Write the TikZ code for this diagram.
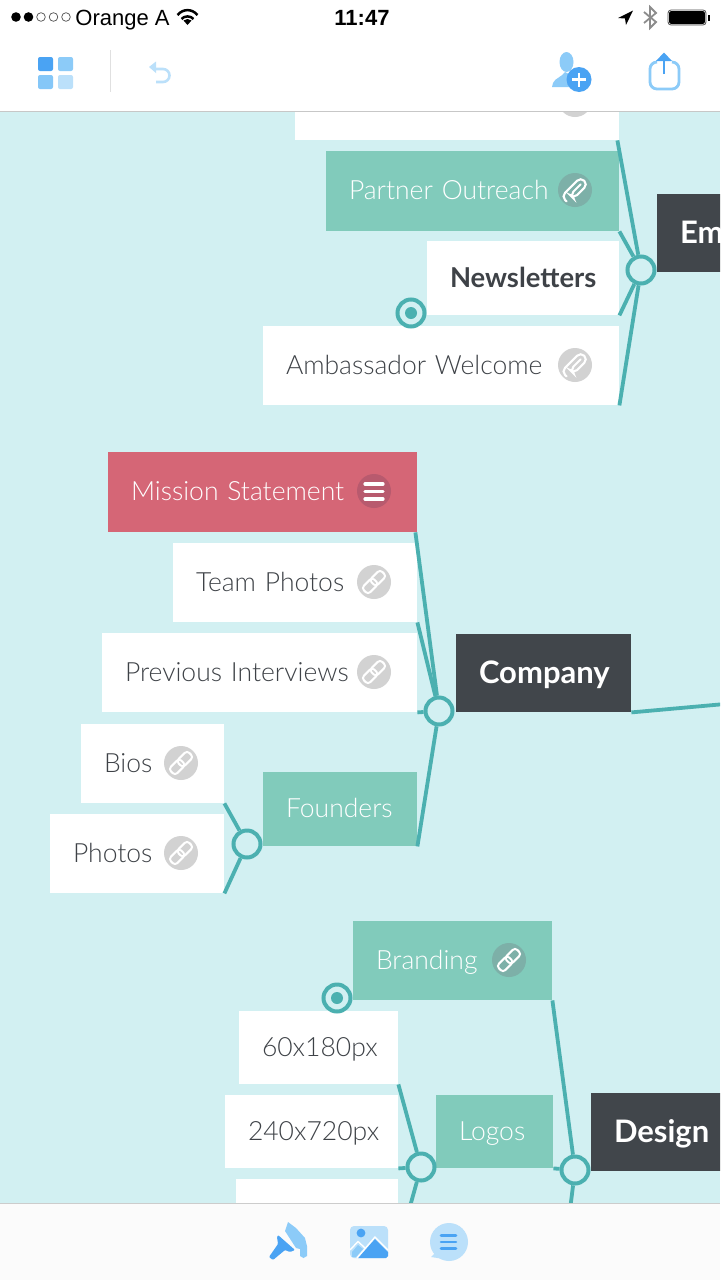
\documentclass[tikz,border=0pt]{standalone}
\usepackage{fontspec}
\setmainfont{Lato}
\newfontfamily\lightf{Lato Light}
\newfontfamily\uifont{Liberation Sans}
\definecolor{bgc}{HTML}{D2F0F2}
\definecolor{linec}{HTML}{4BB0B0}
\definecolor{tealc}{HTML}{81CBBB}
\definecolor{redc}{HTML}{D56676}
\definecolor{darkc}{HTML}{41464B}
\definecolor{txtc}{HTML}{3E4247}
\definecolor{blued}{HTML}{4AA3F3}
\definecolor{bluem}{HTML}{8CCBF8}
\definecolor{bluel}{HTML}{BBE0FA}
\definecolor{badgeg}{HTML}{D2D2D2}
\definecolor{badget}{HTML}{7DB0A8}
\definecolor{badger}{HTML}{B85A6E}
\tikzset{
  x=0.5pt,y=-0.5pt,
  plainbox/.style={fill=white,text=txtc,font=\lightf\fontsize{13.25}{15}\selectfont},
  tealbox/.style={fill=tealc,text=white,font=\lightf\fontsize{13.25}{15}\selectfont},
  redbox/.style={fill=redc,text=white,font=\lightf\fontsize{13.25}{15}\selectfont},
  boldbox/.style={fill=white,text=txtc,font=\fontsize{13.7}{15}\selectfont\bfseries,text height=0.72em+4pt},
  darkbox/.style={fill=darkc,text=white,font=\fontsize{15.5}{17}\selectfont\bfseries,text height=0.72em+5pt},
  hubc/.style={circle,draw=linec,line width=2pt,fill=bgc,minimum size=13.5pt,inner sep=0pt},
  conn/.style={draw=linec,line width=1.9pt},
}
% name x0 y0 x1 y1 style text
\newcommand{\mapbox}[7]{%
  \pgfmathsetmacro{\cxx}{(#2+#4)/2}\pgfmathsetmacro{\cyy}{(#3+#5)/2}%
  \pgfmathsetmacro{\wdd}{(#4-#2)*0.5}\pgfmathsetmacro{\htt}{(#5-#3)*0.5}%
  \pgfmathsetmacro{\twd}{\wdd-23}%
  \node[rectangle,inner xsep=11.5pt,inner ysep=0pt,minimum width=\wdd pt,minimum height=\htt pt,
    text width=\twd pt,align=left,text height=0.72em+3.4pt,text depth=0.2em,anchor=center,#6] (#1) at (\cxx,\cyy) {#7};}
\newcommand{\linkicon}[3]{% x y badgecolour
  \fill[#3] (#1,#2) circle[radius=17];
  \begin{scope}[shift={(#1,#2)},rotate=45,draw=white,line width=1pt]
    \draw[rounded corners=1.6pt] (-13,-4.5) rectangle (2,4.5);
    \draw[rounded corners=1.6pt] (-2,-4.5) rectangle (13,4.5);
  \end{scope}}
\newcommand{\clipicon}[3]{%
  \fill[#3] (#1,#2) circle[radius=17];
  \begin{scope}[shift={(#1,#2)},rotate=45,draw=white,line width=1.05pt,line cap=round]
    \draw[rounded corners=2.4pt] (8,0) -- (-7,0) -- (-7,5) -- (13,5) -- (13,-5) -- (-14,-5) -- (-14,2);
  \end{scope}}
\begin{document}
\begin{tikzpicture}
\useasboundingbox (0,0) rectangle (720,1280);
\begin{scope}
\clip (0,0) rectangle (720,1280);
\fill[bgc] (0,0) rectangle (720,1280);

% boxes
\mapbox{top}{295}{100}{619}{140}{plainbox}{}
\mapbox{po}{326}{151}{619}{231}{tealbox}{Partner Outreach}
\mapbox{nl}{427}{241}{619}{315}{boldbox}{Newsletters}
\mapbox{aw}{263}{326}{619}{405}{plainbox}{Ambassador Welcome}
\mapbox{em}{657}{194}{780}{272}{darkbox}{Em}
\mapbox{ms}{108}{452}{417}{532}{redbox}{Mission Statement}
\mapbox{tp}{173}{543}{417}{622}{plainbox}{Team Photos}
\mapbox{pi}{102}{633}{417}{712}{plainbox}{Previous Interviews}
\mapbox{co}{456}{634}{631}{712}{darkbox}{Company}
\mapbox{fo}{263}{772}{417}{846}{tealbox}{Founders}
\mapbox{bi}{81}{724}{224}{803}{plainbox}{Bios}
\mapbox{ph}{50}{814}{224}{893}{plainbox}{Photos}
\mapbox{br}{353}{921}{552}{1000}{tealbox}{Branding}
\mapbox{sa}{239}{1011}{398}{1084}{plainbox}{60x180px}
\mapbox{sb}{225}{1095}{398}{1168}{plainbox}{240x720px}
\mapbox{sc}{236}{1179}{398}{1230}{plainbox}{}
\mapbox{lo}{436}{1095}{553}{1168}{tealbox}{Logos}
\mapbox{de}{591}{1093}{760}{1171}{darkbox}{Design}

% hubs
\node[hubc] (h1) at (641,270) {};
\node[hubc] (h2) at (439,711) {};
\node[hubc] (h3) at (247,844) {};
\node[hubc] (h4) at (575,1170) {};
\node[hubc] (h5) at (421,1167) {};
\node[hubc] (m1) at (411,313) {};
\node[hubc] (m2) at (337,998) {};
\fill[linec] (m1.center) circle[radius=6];
\fill[linec] (m2.center) circle[radius=6];

\coordinate (coend) at (725,704);
\coordinate (h4end) at (570,1210);
\coordinate (h5end) at (409,1210);

% connectors
\draw[conn] (top.south east) ++(-2,0) -- (h1);
\draw[conn] (po.south east) -- (h1);
\draw[conn] (nl.south east) -- (h1);
\draw[conn] (aw.south east) -- (h1);
\draw[conn] (ms.south east) ++(-2,0) -- (h2);
\draw[conn] (tp.south east) -- (h2);
\draw[conn] (pi.south east) -- (h2);
\draw[conn] (fo.south east) -- (h2);
\draw[conn] (co.south east) -- (coend);
\draw[conn] (bi.south east) -- (h3);
\draw[conn] (ph.south east) -- (h3);
\draw[conn] (br.south east) -- (h4);
\draw[conn] (lo.south east) -- (h4);
\draw[conn] (h4) -- (h4end);
\draw[conn] (sa.south east) -- (h5);
\draw[conn] (sb.south east) -- (h5);
\draw[conn] (h5) -- (h5end);

% badges
\fill[badgeg] (575,100) circle[radius=17];
\clipicon{575}{190}{badget}
\clipicon{575}{365}{badgeg}
\fill[badger] (374,491) circle[radius=17];
\foreach \yy in {484,491.5,499} \draw[white,line width=1.6pt,line cap=round] (365,\yy) -- (383,\yy);
\linkicon{374}{582}{badgeg}
\linkicon{374}{672}{badgeg}
\linkicon{181}{763}{badgeg}
\linkicon{181}{853}{badgeg}
\linkicon{509}{960}{badget}

% top bar
\fill[white] (0,0) rectangle (720,111);
\draw[black!22,line width=0.6pt] (0,111.5) -- (720,111.5);
\foreach \xx/\ff in {16/black,28.5/black}
  \fill[\ff] (\xx,17) circle[radius=4.8];
\foreach \xx in {41,53.5,66}
  \draw[black!70,line width=0.35pt] (\xx,17) circle[radius=4.3];
\node[font=\uifont\fontsize{11}{13}\selectfont,anchor=base west,inner sep=0pt] (carrier) at (75,25) {Orange A};
\node[font=\uifont\fontsize{11}{13}\selectfont\bfseries,anchor=base,inner sep=0pt] (clock) at (362,25) {11:47};
% wifi
\draw[line width=1.25pt] (177.5,15) .. controls (183,8.5) and (192,8.5) .. (197.5,15);
\draw[line width=1.25pt] (181.5,19) .. controls (184.5,15.5) and (190.5,15.5) .. (193.5,19);
\fill (183.5,20.5) .. controls (186,18.5) and (189,18.5) .. (191.5,20.5) -- (187.5,25) -- cycle;
% location
\fill (618,18) -- (633,10.5) -- (626,25) -- (625,18.5) -- cycle;
% bluetooth
\draw[black!45,line width=0.9pt,line join=miter] (644,12) -- (656,22) -- (650,28) -- (650,7) -- (656,13) -- (644,23);
% battery
\draw[black!70,line width=0.4pt,rounded corners=1.5pt] (668,10) rectangle (706,25);
\fill[black,rounded corners=1.2pt] (669,11) rectangle (705,24);
\fill[black] (708,14.5) rectangle (710,20.5);
% grid icon
\fill[blued,rounded corners=1pt] (38,57) rectangle (53,71);
\fill[bluem,rounded corners=1pt] (58,57) rectangle (73,71);
\fill[bluem!90!blued,rounded corners=1pt] (38,75) rectangle (53,89);
\fill[bluel,rounded corners=1pt] (58,75) rectangle (73,89);
\draw[black!12,line width=0.6pt] (110.5,50) -- (110.5,92);
% undo
\draw[bluel,line width=1.3pt] (153,69) -- (163,69) arc[start angle=-90,end angle=90,radius=6.5] -- (156,82);
\fill[bluel] (149,67) -- (156,61.5) -- (156,73) -- cycle;
% person plus
\fill[bluem] (566.5,62) ellipse[x radius=7,y radius=10];
\fill[bluem] (552,87) -- (553,83) .. controls (555,78) and (562,77) .. (565,72) -- (580,80) -- (580,87) -- cycle;
\fill[blued] (579,79.5) circle[radius=12.5];
\draw[white,line width=1.4pt] (572,79.5) -- (586,79.5) (579,72.5) -- (579,86.5);
% share
\draw[bluem,line width=1.4pt,rounded corners=3.5pt] (656,62) -- (650,62) -- (650,89) -- (679,89) -- (679,62) -- (672,62);
\draw[blued,line width=1.4pt] (664,74) -- (664,58);
\fill[blued] (664,52.5) -- (672,61) -- (656,61) -- cycle;

% bottom bar
\fill[white!98.5!black] (0,1204) rectangle (720,1280);
\draw[black!20,line width=0.6pt] (0,1203.5) -- (720,1203.5);
% brush
\fill[bluem] (285,1231) -- (288,1222) -- (296,1228) -- (305,1238) -- (307,1246) -- (307,1256) -- (303.5,1258) -- (300,1256) -- (300,1249) -- (296,1248) -- cycle;
\fill[blued,rounded corners=0.5pt] (278,1235) -- (295,1250) -- (290,1252) -- (285,1250) -- (273,1260) -- (269,1257) -- (278,1244) -- (277,1237) -- cycle;
% image
\fill[bluel,rounded corners=2pt] (350,1226) rectangle (388,1258);
\fill[blued] (361,1233) circle[radius=4.4];
\fill[bluem] (352,1252) -- (358,1245) -- (363,1249) -- (356,1257) -- (352,1257) -- cycle;
\draw[white,line width=0.7pt] (350,1250) -- (358,1241.5) -- (365,1248);
\fill[blued] (358,1258) -- (375,1239) -- (388,1252) -- (388,1256) -- (386,1258) -- cycle;
\draw[white,line width=0.7pt] (357,1258) -- (375,1237) -- (388,1250);
% chat
\fill[bluel] (449,1242) circle[radius=19];
\fill[bluel] (431,1257) -- (438,1250) -- (444,1259) -- cycle;
\foreach \yy in {1235.5,1242,1248.5} \draw[blued,line width=1.3pt,line cap=round] (441,\yy) -- (456,\yy);
\end{scope}
\end{tikzpicture}
\end{document}
